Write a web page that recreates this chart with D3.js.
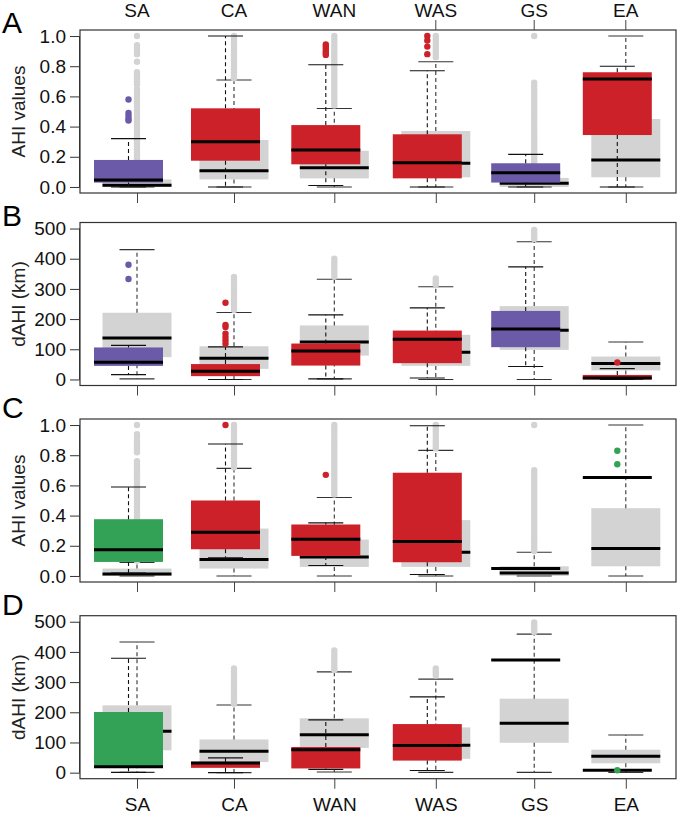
<!DOCTYPE html>
<html><head><meta charset="utf-8">
<script src="https://cdn.jsdelivr.net/npm/d3@7"></script>
<style>body{margin:0;background:#fff}svg{display:block}</style>
</head><body><svg id="c" width="679" height="816"></svg>
<script>
// ---------- DATA ----------
const categories = ["SA","CA","WAN","WAS","GS","EA"];
const ahiTicks = [0, 0.2, 0.4, 0.6, 0.8, 1.0];
const dahiTicks = [0, 100, 200, 300, 400, 500];
const panelLetters = ["A","B","C","D"];
const yTitles = ["AHI values","dAHI (km)","AHI values","dAHI (km)"];

// stats per category: [lower whisker, Q1, median, Q3, upper whisker]
// Panel A
const grayA = [[0,0,0.012,0.05,0.08],[0,0.05,0.108,0.311,0.709],[0,0.057,0.128,0.24,0.52],[0,0.064,0.157,0.371,0.83],[0,0,0.024,0.06,0.12],[0,0.064,0.179,0.45,1.0]];
const grayOutA = [
  [1.0,0.94,0.92,0.90,0.88,0.83,0.76,0.74,0.72,0.70,0.68,0.65,0.63,0.61,0.59,0.57,0.55,0.53,0.51,0.49,0.47,0.45,0.43,0.41,0.39,0.37,0.35,0.33,0.31,0.29,0.27,0.25,0.23,0.21,0.19,0.17,0.15,0.13,0.11,0.09],
  [1.0,0.98,0.96,0.94,0.92,0.90,0.88,0.86,0.84,0.82,0.80,0.78,0.76,0.74,0.72],
  [1.0,0.98,0.96,0.94,0.92,0.90,0.88,0.86,0.84,0.82,0.80,0.78,0.76,0.74,0.72,0.70,0.68,0.66,0.64,0.62,0.60,0.58,0.56,0.54],
  [1.0,0.98,0.96,0.94,0.92,0.90,0.88,0.86],
  [1.0,0.69,0.67,0.65,0.63,0.61,0.59,0.57,0.55,0.53,0.51,0.49,0.47,0.45,0.43,0.41,0.39,0.37,0.35,0.33,0.31,0.29,0.27,0.25,0.23,0.21,0.19,0.17,0.15,0.13],
  []
];
const colA = [[0,0.029,0.046,0.179,0.32],[0,0.174,0.30,0.521,1.0],[0.01,0.15,0.245,0.41,0.81],[0,0.057,0.161,0.349,0.77],[0,0.029,0.095,0.157,0.216],[0,0.344,0.715,0.76,0.80]];
const colOutA = [[0.58,0.49,0.47,0.45,0.44],[],[0.945,0.93,0.915,0.90,0.885,0.875],[1.0,0.97,0.93,0.88],[],[]];
const colColorA = ["purple","red","red","red","purple","red"];

// Panel B
const grayB = [[2,74,137,221,430],[0,35,70,110,222],[2,79,124,179,332],[0,45,90,148,307],[0,98,163,243,456],[0,30,53,76,124]];
const grayOutB = [[],[340,330,320,310,300,290,280,270,260,250,240,230],[400,390,380,370,360,350,340],[335,328,320,315],[495,488,480,472,465],[]];
const colB = [[16,45,57,106,113],[0,11,27,51,108],[2,46,94,119,214],[5,54,133,162,237],[43,107,167,227,373],[0,0,5,15,36]];
const colOutB = [[380,333],[254,181,174,152,141,129,118],[],[],[],[56]];
const colColorB = ["purple","red","red","red","purple","red"];

// Panel C
const grayC = [[0,0,0.013,0.049,0.09],[0,0.049,0.109,0.314,0.713],[0,0.06,0.126,0.241,0.52],[0,0.06,0.157,0.37,0.832],[0,0,0.02,0.064,0.157],[0,0.064,0.182,0.449,1.0]];
const grayOutC = [
  [1.0,0.94,0.92,0.90,0.88,0.86,0.84,0.82,0.76,0.74,0.72,0.70,0.68,0.66,0.64,0.62,0.60,0.58,0.56,0.54,0.52,0.50,0.48,0.46,0.44,0.42,0.40,0.38,0.36,0.34,0.32,0.30,0.28,0.26,0.24,0.22,0.20,0.18,0.16,0.14,0.12,0.10],
  [1.0,0.98,0.96,0.94,0.92,0.90,0.88,0.86,0.84,0.82,0.80,0.78,0.76,0.74,0.72],
  [1.0,0.98,0.96,0.94,0.92,0.90,0.88,0.86,0.84,0.82,0.80,0.78,0.76,0.74,0.72,0.70,0.68,0.66,0.64,0.62,0.60,0.58,0.56,0.54],
  [1.0,0.98,0.96,0.94,0.92,0.90,0.88,0.86,0.845],
  [1.0,0.70,0.68,0.66,0.64,0.62,0.60,0.58,0.56,0.54,0.52,0.50,0.48,0.46,0.44,0.42,0.40,0.38,0.36,0.34,0.32,0.30,0.28,0.26,0.24,0.22,0.20,0.18,0.165],
  []
];
const colC = [[0.02,0.093,0.173,0.376,0.589],[0.12,0.177,0.29,0.50,0.874],[0.069,0.133,0.243,0.341,0.352],[0.01,0.091,0.228,0.684,0.995],[0.049,0.049,0.049,0.049,0.049],[0.653,0.653,0.653,0.653,0.653]];
const colOutC = [[],[1.0],[0.67],[],[],[0.83,0.74]];
const colColorC = ["green","red","red","red","green","green"];

// Panel D
const grayD = [[1,74,137,223,433],[0,35,71,110,224],[2,82,126,180,334],[1,46,91,150,310],[1,99,164,245,459],[1,31,54,76,125]];
const grayOutD = [[],[345,335,325,315,305,295,285,275,265,255,245,235,228],[405,395,385,375,365,355,345,340],[345,338,330,322],[498,490,482,474,466],[]];
const colD = [[1,18,20,201,379],[0,16,32,36,49],[11,14,76,85,175],[7,40,90,161,251],[373,373,373,373,373],[8,8,8,8,8]];
const colOutD = [[],[],[],[],[],[8]];
const colColorD = ["green","red","red","red","green","green"];

// ---------- STYLE / LAYOUT ----------
const palette = {purple:"#6a5aa7", red:"#cc2128", green:"#33a257", gray:"#d3d3d3"};
const W = 679, H = 816;
const frameL = 80, frameR = 676, panelH = 163;
const panelTops = [30, 222.5, 419, 615.7];
const letterBase = [33, 226, 418, 615];
const catCenters = [137, 234, 334.3, 435.8, 534.2, 625.8];
const boxW = 69, capW = 35, shift = 8.5, dotR = 3.2;
const font = "'Liberation Sans', Arial, Helvetica, sans-serif";
const fs = 19;

const svg = d3.select("#c");
svg.append("rect").attr("width",W).attr("height",H).attr("fill","#fff");

const x = d3.scaleOrdinal().domain(categories).range(catCenters);

const panels = [
  {gray:grayA, grayOut:grayOutA, col:colA, colOut:colOutA, colColor:colColorA, ticks:ahiTicks, fmt:d3.format(".1f")},
  {gray:grayB, grayOut:grayOutB, col:colB, colOut:colOutB, colColor:colColorB, ticks:dahiTicks, fmt:d3.format("d")},
  {gray:grayC, grayOut:grayOutC, col:colC, colOut:colOutC, colColor:colColorC, ticks:ahiTicks, fmt:d3.format(".1f")},
  {gray:grayD, grayOut:grayOutD, col:colD, colOut:colOutD, colColor:colColorD, ticks:dahiTicks, fmt:d3.format("d")}
];

function drawBoxes(g, y, stats, outs, colorFn, dx, lineCol){
  categories.forEach((c,i)=>{
    const s = stats[i];
    const cx = x(c) + dx;
    const fill = colorFn(i);
    g.append("rect").attr("x", cx - boxW/2).attr("width", boxW)
      .attr("y", y(s[3])).attr("height", Math.max(0, y(s[1]) - y(s[3])))
      .attr("fill", fill);
    [[s[3],s[4]],[s[1],s[0]]].forEach(([a,b])=>{
      if (a!==b) g.append("line").attr("x1",cx).attr("x2",cx).attr("y1",y(a)).attr("y2",y(b))
        .attr("stroke",lineCol).attr("stroke-width",1.1).attr("stroke-dasharray","4,3");
    });
    [s[0], s[4]].forEach(v=>{
      g.append("line").attr("x1",cx-capW/2).attr("x2",cx+capW/2).attr("y1",y(v)).attr("y2",y(v))
        .attr("stroke",lineCol).attr("stroke-width",1.1);
    });
    g.append("line").attr("x1",cx-boxW/2).attr("x2",cx+boxW/2).attr("y1",y(s[2])).attr("y2",y(s[2]))
      .attr("stroke","#000").attr("stroke-width",3);
    g.selectAll(null).data(outs[i]).enter().append("circle")
      .attr("cx",cx).attr("cy",d=>y(d)).attr("r",dotR).attr("fill",fill);
  });
}

panels.forEach((p,pi)=>{
  const top = panelTops[pi], bottom = top + panelH;
  const yMax = p.ticks[p.ticks.length-1];
  const pad = yMax*0.04;
  const y = d3.scaleLinear().domain([-pad, yMax+pad]).range([bottom, top]);
  const g = svg.append("g");

  drawBoxes(g, y, p.gray, p.grayOut, ()=>palette.gray, 0, "#333");
  drawBoxes(g, y, p.col, p.colOut, i=>palette[p.colColor[i]], -shift, "#111");

  svg.append("rect").attr("x",frameL).attr("y",top).attr("width",frameR-frameL).attr("height",panelH)
    .attr("fill","none").attr("stroke","#333").attr("stroke-width",1.2);

  const yAxis = d3.axisLeft(y).tickValues(p.ticks).tickFormat(p.fmt).tickSize(10).tickPadding(4);
  const ya = svg.append("g").attr("transform",`translate(${frameL},0)`).call(yAxis);
  ya.select(".domain").remove();
  svg.append("line").attr("x1",frameL-0.5).attr("x2",frameL-0.5).attr("y1",y(p.ticks[0])).attr("y2",y(yMax))
    .attr("stroke","#333").attr("stroke-width",1);
  ya.selectAll(".tick line").attr("stroke","#333");
  ya.selectAll(".tick text").attr("font-family",font).attr("font-size",fs).attr("fill","#111");

  const xAxisB = d3.axisBottom(x).tickSize(10).tickFormat(pi===3 ? (d=>d) : "");
  const xb = svg.append("g").attr("transform",`translate(0,${bottom})`).call(xAxisB);
  xb.select(".domain").remove();
  xb.selectAll(".tick line").attr("stroke","#444");
  xb.selectAll(".tick text").attr("font-family",font).attr("font-size",fs).attr("fill","#111").attr("dy","1.0em");

  svg.append("text").attr("transform",`translate(25,${(top+bottom)/2}) rotate(-90)`)
    .attr("text-anchor","middle").attr("font-family",font).attr("font-size",fs).attr("fill","#222")
    .text(yTitles[pi]);

  svg.append("text").attr("x",2).attr("y",letterBase[pi]).attr("font-family",font)
    .attr("font-size",30).attr("fill","#000").text(panelLetters[pi]);

  if (pi===0){
    const xt = svg.append("g");
    categories.forEach((c,i)=>{
      if (i>=3) xt.append("line").attr("x1",x(c)).attr("x2",x(c)).attr("y1",top-10).attr("y2",top).attr("stroke","#444");
      xt.append("text").attr("x",x(c)).attr("y",16.5).attr("text-anchor","middle")
        .attr("font-family",font).attr("font-size",fs).attr("fill","#111").text(c);
    });
  }
});
</script></body></html>
